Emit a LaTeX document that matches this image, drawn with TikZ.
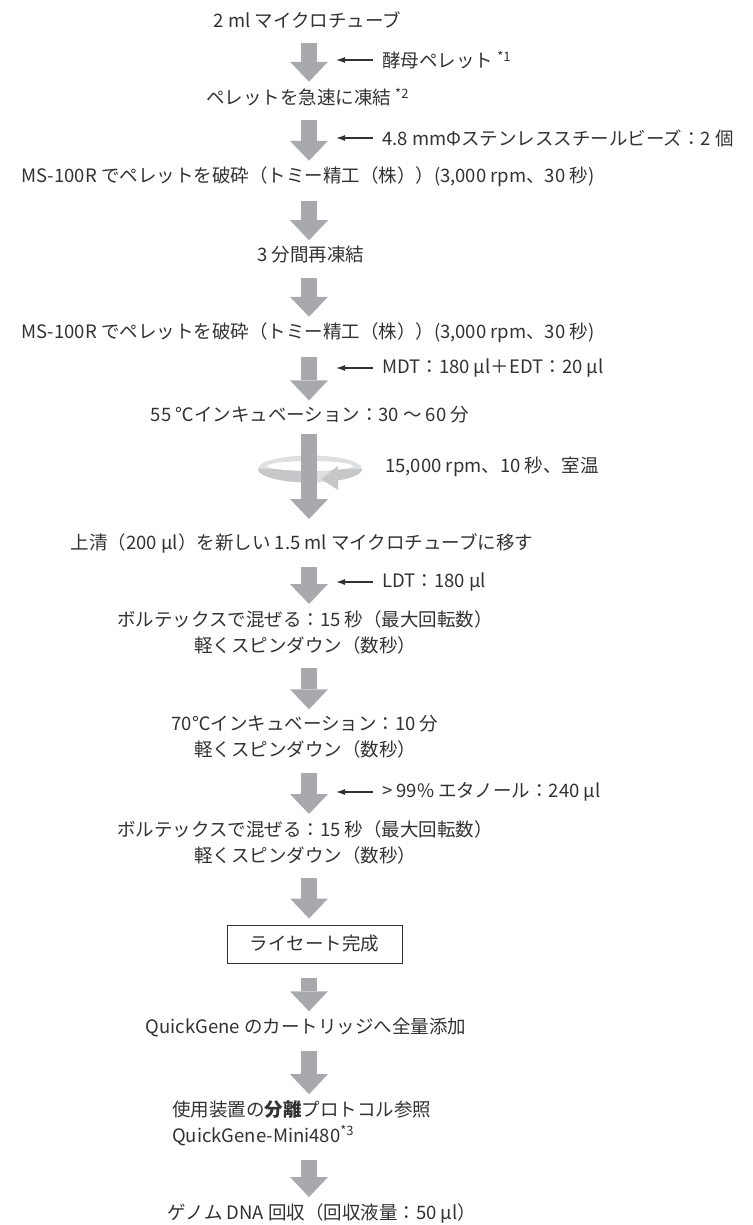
\documentclass[tikz,border=0pt]{standalone}
\usepackage{fontspec}
\setmainfont{Noto Sans CJK JP}
\usetikzlibrary{arrows.meta}
\definecolor{flowgray}{RGB}{167,169,172}
\definecolor{ringback}{RGB}{222,223,224}
\definecolor{ringfront}{RGB}{198,199,201}
\definecolor{inkgray}{RGB}{50,50,50}

\begin{document}
\begin{tikzpicture}[x=1pt, y=-1pt,
    txt/.style={inner sep=0pt, text=inkgray, align=center,
      font=\fontsize{18.5}{26}\selectfont},
    side/.style={txt, anchor=west, inner xsep=9pt},
    flow/.style={flowgray, line width=16pt, shorten <=14pt, shorten >=6pt,
      -{Triangle[width=38pt, length=20pt, line width=0pt]}},
    feed/.style={inkgray, line width=1.2pt, -{Latex[length=9pt, width=6pt]}}]
  \useasboundingbox (0,0) rectangle (752,1225);
  \coordinate (col) at (309,0);

  % Steps
  \node[txt] (t1) at (307.5,20) {2 ml マイクロチューブ};
  \node[txt] (t2) at (307.5,97) {ペレットを急速に凍結 \textsuperscript{*2}};
  \node[txt] (t3) at (308,177) {MS-100R でペレットを破砕（トミー精工（株））(3,000 rpm、30 秒)};
  \node[txt] (t4) at (311,255) {3 分間再凍結};
  \node[txt] (t5) at (308,333) {MS-100R でペレットを破砕（トミー精工（株））(3,000 rpm、30 秒)};
  \node[txt] (t6) at (310,415) {55 ℃インキュベーション：30 ～ 60 分};
  \node[txt] (t7) at (302,543) {上清（200 µl）を新しい 1.5 ml マイクロチューブに移す};
  \node[txt] (t8) at (305,632) {ボルテックスで混ぜる：15 秒（最大回転数）\\軽くスピンダウン（数秒）};
  \node[txt] (t9) at (305,737) {70℃インキュベーション：10 分\\軽くスピンダウン（数秒）};
  \node[txt] (t10) at (305,842) {ボルテックスで混ぜる：15 秒（最大回転数）\\軽くスピンダウン（数秒）};
  \node[txt, draw=inkgray, line width=1pt, minimum width=175pt, minimum height=38pt]
    (lysate) at (314.5,944) {ライセート完成};
  \node[txt] (t11) at (306,1027) {QuickGene のカートリッジへ全量添加};
  \node[txt, anchor=west, align=left] (t12) at (172,1123)
    {使用装置の\textbf{分離}プロトコル参照\\QuickGene-Mini480\textsuperscript{*3}};
  \node[txt] (t13) at (322,1213) {ゲノム DNA 回収（回収液量：50 µl）};

  % Additions
  \node[side] (s1) at (373,60) {酵母ペレット \textsuperscript{*1}};
  \node[side] (s2) at (373,138) {4.8 mmΦステンレススチールビーズ：2 個};
  \node[side] (s5) at (373,368) {MDT：180 µl＋EDT：20 µl};
  \node[txt, anchor=west] (s6) at (385,467) {15,000 rpm、10 秒、室温};
  \node[side] (s7) at (373,582) {LDT：180 µl};
  \node[side] (s9) at (373,792) {> 99\% エタノール：240 µl};
  \coordinate (k1) at (336,60);
  \coordinate (k2) at (336,138);
  \coordinate (k5) at (336,368);
  \coordinate (k7) at (336,582);
  \coordinate (k9) at (336,792);
  \draw[feed] (s1) -- (k1);
  \draw[feed] (s2) -- (k2);
  \draw[feed] (s5) -- (k5);
  \draw[feed] (s7) -- (k7);
  \draw[feed] (s9) -- (k9);

  % Centrifuge ring
  \fill[ringback, even odd rule] (310,469) ellipse [x radius=52, y radius=13.5]
    (310,466) ellipse [x radius=43, y radius=5];
  \begin{scope}
    \clip (250,469) rectangle (317,492) (338,469) rectangle (370,492);
    \fill[ringfront, even odd rule] (310,469) ellipse [x radius=52, y radius=13.5]
      (310,466) ellipse [x radius=43, y radius=5];
  \end{scope}
  \fill[ringfront] (321,479) -- (338,466) -- (338,490) -- cycle;

  % Flow
  \draw[flow] (t1.south -| col) -- (t2.north -| col);
  \draw[flow] (t2.south -| col) -- (t3.north -| col);
  \draw[flow] (t3.south -| col) -- (t4.north -| col);
  \draw[flow] (t4.south -| col) -- (t5.north -| col);
  \draw[flow] (t5.south -| col) -- (t6.north -| col);
  \draw[flow, shorten <=10pt, shorten >=14pt] (t6.south -| col) -- (t7.north -| col);
  \draw[flow] (t7.south -| col) -- (t8.north -| col);
  \draw[flow] (t8.south -| col) -- (t9.north -| col);
  \draw[flow] (t9.south -| col) -- (t10.north -| col);
  \draw[flow] (t10.south -| col) -- (lysate.north -| col);
  \draw[flow] (lysate.south -| col) -- (t11.north -| col);
  \draw[flow] (t11.south -| col) -- (t12.north -| col);
  \draw[flow] (t12.south -| col) -- (t13.north -| col);
\end{tikzpicture}
\end{document}
